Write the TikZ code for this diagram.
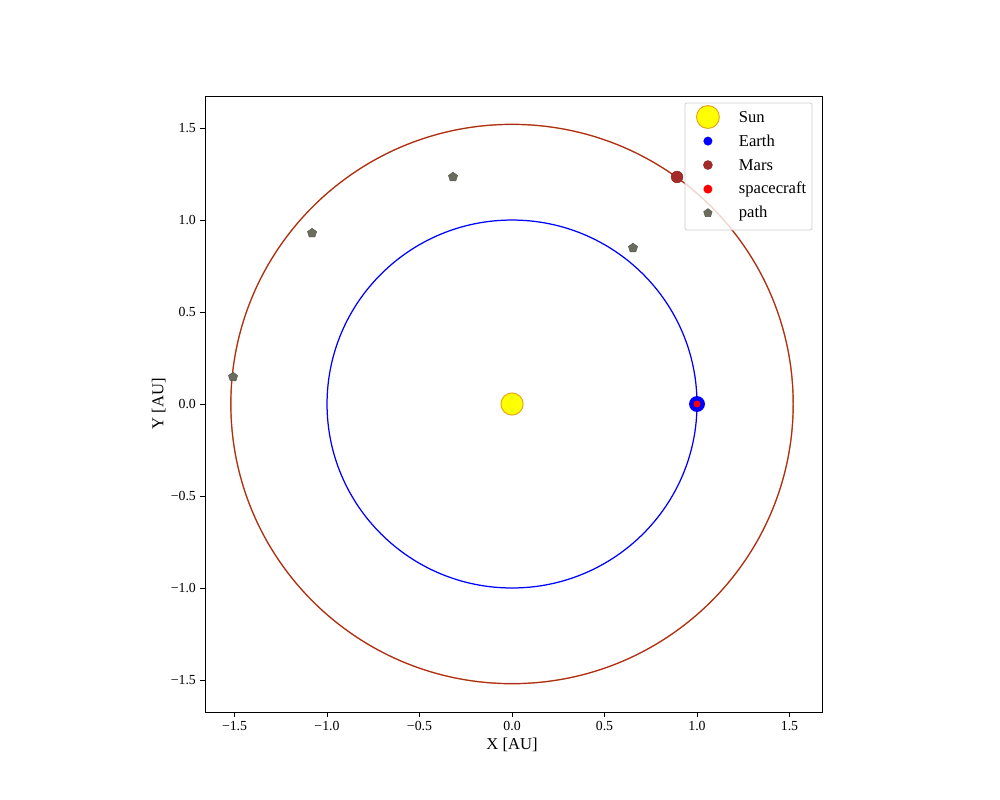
\documentclass[tikz,border=0pt]{standalone}
\usepackage{fontspec}
\setmainfont{Liberation Serif}
\usepackage{xcolor}
\usepackage{tikz}
\usetikzlibrary{shapes.geometric}
\definecolor{sunyellow}{HTML}{FFFF00}
\definecolor{sunedge}{HTML}{E8A317}
\definecolor{mars}{HTML}{A52A2A}
\definecolor{marsorange}{HTML}{E07B20}
\definecolor{pathgray}{HTML}{6B6B5E}
\definecolor{legendedge}{HTML}{CCCCCC}

\tikzset{
  dot/.style={circle, inner sep=0pt, minimum size=#1},
  pathmark/.style={regular polygon, regular polygon sides=5, inner sep=0pt,
    minimum size=#1, fill=pathgray, draw=pathgray!80!black, line width=0.3pt},
  ticklabel/.style={font=\fontsize{10}{12}\selectfont},
  legendtext/.style={font=\fontsize{12}{14}\selectfont, anchor=west}
}

\begin{document}
\begin{tikzpicture}[x=1.85in, y=1.84in]
  \useasboundingbox (-2.768,-2.152) rectangle (2.638,2.196);

  % orbits
  \draw[blue, line width=0.9pt] (0,0) circle (1.0);
  \draw[marsorange, line width=1.0pt] (0,0) circle (1.52);
  \draw[mars, line width=0.7pt] (0,0) circle (1.52);

  % bodies
  \node[dot=16pt, fill=sunyellow, draw=sunedge, line width=0.7pt] (sun) at (0,0) {};
  \node[dot=11.5pt, fill=blue] (earth) at (1.0,0) {};
  \node[dot=5pt, fill=red] (craft) at (1.0,0) {};
  \node[dot=8.5pt, fill=mars, draw=mars!80!black, line width=0.3pt] (mars) at (0.892,1.234) {};

  % transfer path samples
  \foreach[count=\i from 1] \px/\py in
      {0.654/0.848, -0.319/1.234, -1.081/0.929, -1.508/0.147} {
    \node[pathmark=7pt] (p\i) at (\px,\py) {};
  }

  % axes frame and ticks
  \draw[line width=0.6pt] (-1.66,-1.674) rectangle (1.676,1.674);
  \foreach \t/\lab in {-1.5/{−1.5}, -1.0/{−1.0}, -0.5/{−0.5}, 0.0/{0.0}, 0.5/{0.5}, 1.0/{1.0}, 1.5/{1.5}} {
    \draw[line width=0.6pt] (\t,-1.674) -- ++(0,-3.5pt);
    \node[ticklabel, anchor=north] at ([yshift=-3pt]\t,-1.674) {\lab};
    \draw[line width=0.6pt] (-1.66,\t) -- ++(-3.5pt,0);
    \node[ticklabel, anchor=east] at ([xshift=-3pt]-1.66,\t) {\lab};
  }

  \node[font=\fontsize{12}{14}\selectfont] (xlab) at (0,-1.85) {X [AU]};
  \node[font=\fontsize{12}{14}\selectfont, rotate=90] (ylab) at (-1.91,0) {Y [AU]};

  % legend
  \draw[legendedge, fill=white, fill opacity=0.8, rounded corners=1.5pt, line width=0.5pt]
    (0.935,0.946) rectangle (1.622,1.636);
  \node[dot=16.5pt, fill=sunyellow, draw=sunedge, line width=0.7pt] (lsun) at (1.059,1.560) {};
  \node[dot=6.5pt, fill=blue] (learth) at (1.059,1.429) {};
  \node[dot=6.5pt, fill=mars, draw=mars!80!black, line width=0.3pt] (lmars) at (1.059,1.299) {};
  \node[dot=6.5pt, fill=red] (lcraft) at (1.059,1.168) {};
  \node[pathmark=6.5pt] (lpath) at (1.059,1.038) {};
  \foreach[count=\i from 1] \yy/\txt in
      {1.560/Sun, 1.429/Earth, 1.299/Mars, 1.168/spacecraft, 1.038/path} {
    \node[legendtext] (leg\i) at (1.200,\yy) {\txt};
  }
\end{tikzpicture}
\end{document}
